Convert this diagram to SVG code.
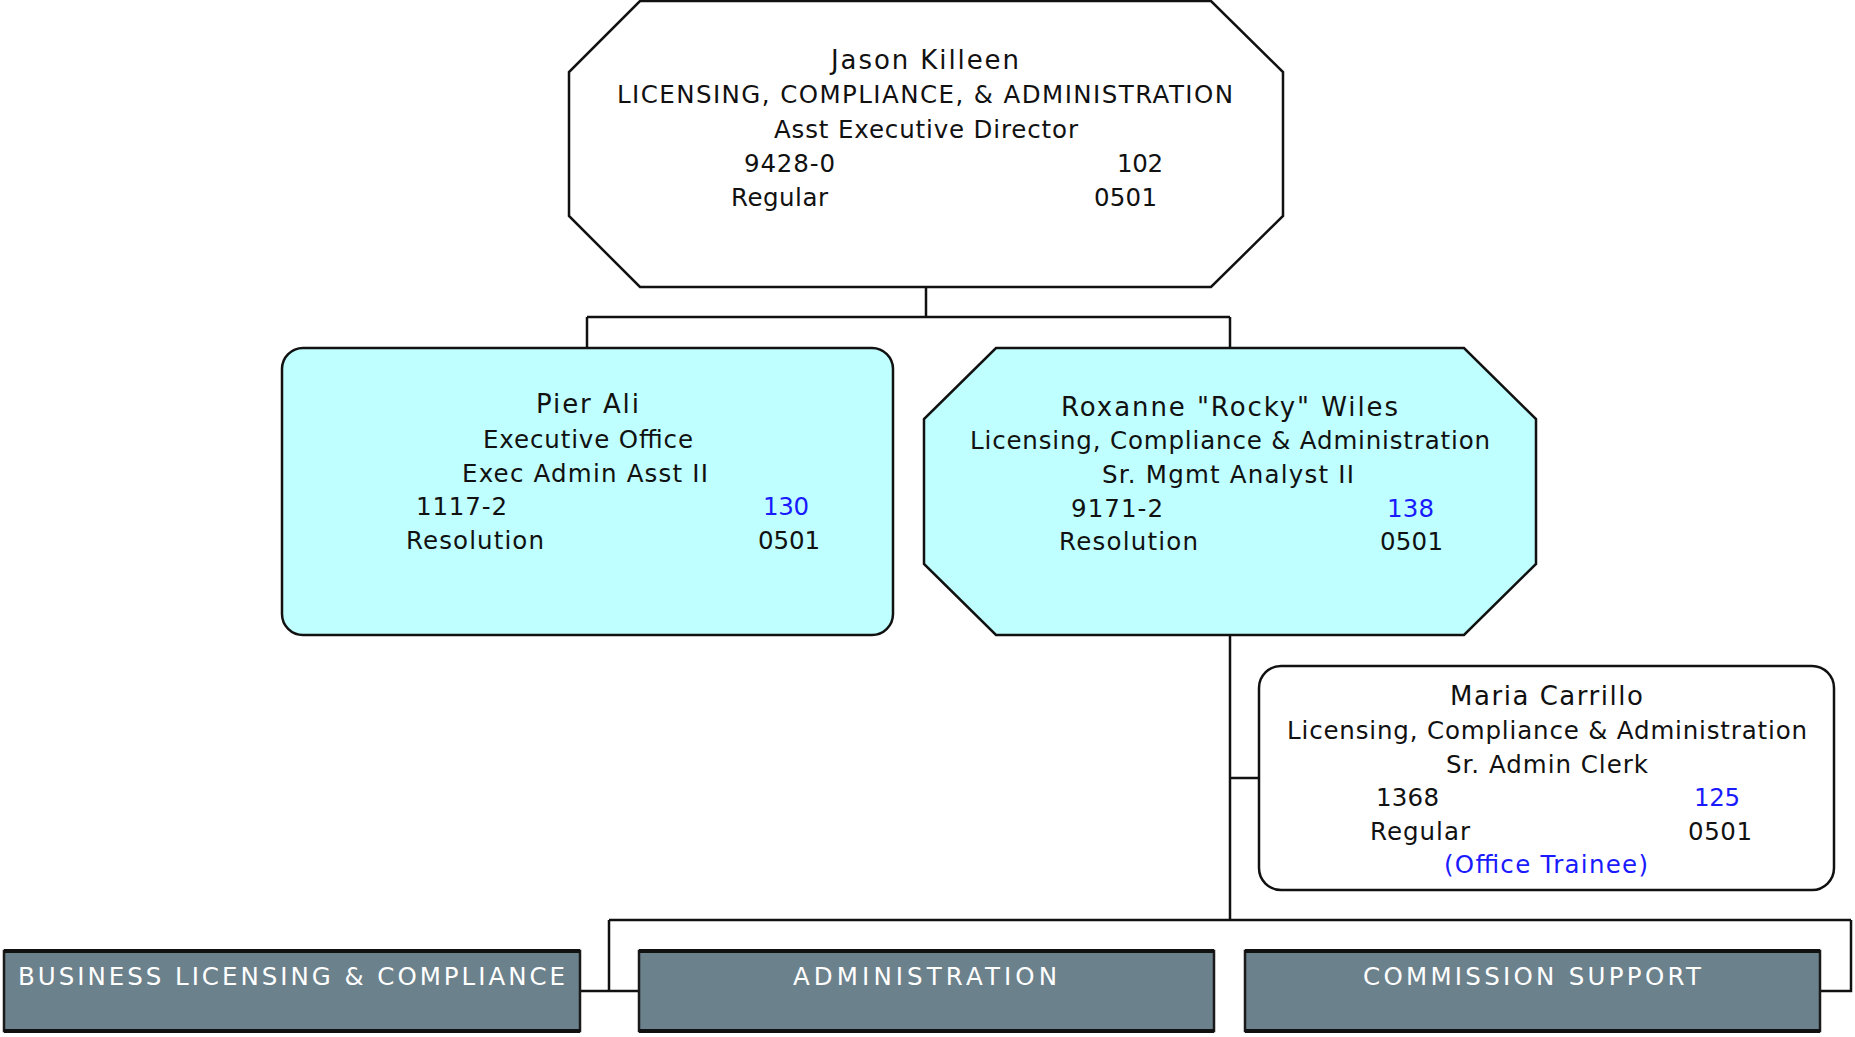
<svg xmlns="http://www.w3.org/2000/svg" width="1855" height="1037" viewBox="0 0 1855 1037">
<style>
text{font-family:"DejaVu Sans","Liberation Sans",Arial,sans-serif;font-size:24.5px;fill:#111;}
.nm{font-size:26px;}
.bl{fill:#1a1aff;}
.wt{fill:#ffffff;}
.oct{fill:#ffffff;stroke:#111;stroke-width:2.5;}
.cy{fill:#bfffff;stroke:#111;stroke-width:2.5;}
.wb{fill:#ffffff;stroke:#111;stroke-width:2.5;}
.dept{fill:#6b818c;stroke:#1a1a1a;stroke-width:2.5;}
.deptedge{stroke:#111;stroke-width:4;}
.conn{fill:none;stroke:#111;stroke-width:2.5;}
</style>
<rect x="0" y="0" width="1855" height="1037" fill="#ffffff"/>
<g id="connectors">
<path class="conn" d="M926,287 V317 M587,317 H1230 M587,317 V348 M1230,317 V348"/>
<path class="conn" d="M1230,635 V920 M1230,778 H1259"/>
<path class="conn" d="M609,920 H1851 M609,920 V991 M580,991 H639 M1851,920 V991 H1820"/>
</g>
<g id="node-jason">
<polygon class="oct" points="640,1 1211,1 1283,72 1283,216 1211,287 640,287 569,216 569,72"/>
<text class="nm" x="831" y="69" textLength="188" lengthAdjust="spacing">Jason Killeen</text>
<text x="617" y="103" textLength="616" lengthAdjust="spacing">LICENSING, COMPLIANCE, &amp; ADMINISTRATION</text>
<text x="774" y="138" textLength="304" lengthAdjust="spacing">Asst Executive Director</text>
<text x="744" y="172" textLength="91" lengthAdjust="spacing">9428-0</text>
<text x="1117" y="172" textLength="46" lengthAdjust="spacing">102</text>
<text x="731" y="206" textLength="97" lengthAdjust="spacing">Regular</text>
<text x="1094" y="206" textLength="63" lengthAdjust="spacing">0501</text>
</g>
<g id="node-pier">
<rect class="cy" x="282" y="348" width="611" height="287" rx="21" ry="21"/>
<text class="nm" x="536" y="413" textLength="103" lengthAdjust="spacing">Pier Ali</text>
<text x="483" y="448" textLength="210" lengthAdjust="spacing">Executive Office</text>
<text x="462" y="482" textLength="246" lengthAdjust="spacing">Exec Admin Asst II</text>
<text x="416" y="515" textLength="91" lengthAdjust="spacing">1117-2</text>
<text class="bl" x="763" y="515" textLength="46" lengthAdjust="spacing">130</text>
<text x="406" y="549" textLength="138" lengthAdjust="spacing">Resolution</text>
<text x="758" y="549" textLength="62" lengthAdjust="spacing">0501</text>
</g>
<g id="node-roxanne">
<polygon class="cy" points="996,348 1464,348 1536,419 1536,564 1464,635 996,635 924,564 924,419"/>
<text class="nm" x="1061" y="416" textLength="337" lengthAdjust="spacing">Roxanne "Rocky" Wiles</text>
<text x="970" y="449" textLength="520" lengthAdjust="spacing">Licensing, Compliance &amp; Administration</text>
<text x="1102" y="483" textLength="252" lengthAdjust="spacing">Sr. Mgmt Analyst II</text>
<text x="1071" y="517" textLength="92" lengthAdjust="spacing">9171-2</text>
<text class="bl" x="1387" y="517" textLength="47" lengthAdjust="spacing">138</text>
<text x="1059" y="550" textLength="139" lengthAdjust="spacing">Resolution</text>
<text x="1380" y="550" textLength="63" lengthAdjust="spacing">0501</text>
</g>
<g id="node-maria">
<rect class="wb" x="1259" y="666" width="575" height="224" rx="22" ry="22"/>
<text class="nm" x="1450" y="705" textLength="193" lengthAdjust="spacing">Maria Carrillo</text>
<text x="1287" y="739" textLength="520" lengthAdjust="spacing">Licensing, Compliance &amp; Administration</text>
<text x="1446" y="773" textLength="202" lengthAdjust="spacing">Sr. Admin Clerk</text>
<text x="1376" y="806" textLength="63" lengthAdjust="spacing">1368</text>
<text class="bl" x="1694" y="806" textLength="46" lengthAdjust="spacing">125</text>
<text x="1370" y="840" textLength="100" lengthAdjust="spacing">Regular</text>
<text x="1688" y="840" textLength="64" lengthAdjust="spacing">0501</text>
<text class="bl" x="1444" y="873" textLength="204" lengthAdjust="spacing">(Office Trainee)</text>
</g>
<g id="node-business">
<rect class="dept" x="4" y="951" width="576" height="80"/>
<path class="deptedge" d="M4,951 H580 M4,1031 H580"/>
<text class="wt" x="18" y="985" textLength="547" lengthAdjust="spacing">BUSINESS LICENSING &amp; COMPLIANCE</text>
</g>
<g id="node-administration">
<rect class="dept" x="639" y="951" width="575" height="80"/>
<path class="deptedge" d="M639,951 H1214 M639,1031 H1214"/>
<text class="wt" x="793" y="985" textLength="264" lengthAdjust="spacing">ADMINISTRATION</text>
</g>
<g id="node-commission">
<rect class="dept" x="1245" y="951" width="575" height="80"/>
<path class="deptedge" d="M1245,951 H1820 M1245,1031 H1820"/>
<text class="wt" x="1363" y="985" textLength="338" lengthAdjust="spacing">COMMISSION SUPPORT</text>
</g>
</svg>
